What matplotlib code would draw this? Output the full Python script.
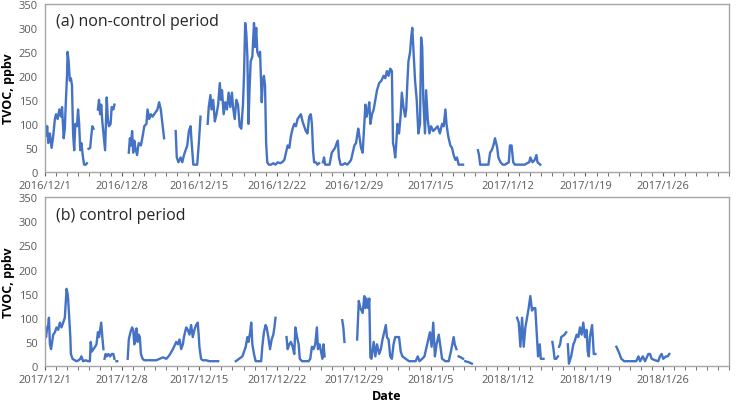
import numpy as np
import pandas as pd
import matplotlib
matplotlib.use('Agg')
import matplotlib.pyplot as plt
from matplotlib.ticker import MultipleLocator, FuncFormatter

nan = np.nan

# ------------------------------------------------------------------
# data: days since start of period, TVOC (ppbv); nan breaks the line
# ------------------------------------------------------------------
start_a = pd.Timestamp('2016-12-01')
start_b = pd.Timestamp('2017-12-01')

day_a = [
    0.0, 0.1, 0.2, 0.3, 0.45, 0.6, 0.75, 0.9, 1.0, 1.15, 1.3, 1.45, 1.55, 1.7, 1.8, 1.9,
    2.0, 2.05, 2.15, 2.25, 2.35, 2.45, 2.55, 2.65, 2.75, 2.9, 3.0, 3.1, 3.2, 3.3, 3.45,
    3.55, 3.7, 3.8, nan,
    3.95, 4.1, 4.2, 4.3, 4.4, nan,
    4.8, 4.9, 5.0, 5.1, 5.2, 5.35, 5.45, 5.6, 5.7, 5.8, 5.95, 6.05, 6.2, 6.3, nan,
    7.6, 7.7, 7.8, 7.9, 8.0, 8.1, 8.2, 8.35, 8.5, 8.7, 8.9, 9.0, 9.2, 9.3, 9.45, 9.6,
    9.75, 9.9, 10.05, 10.2, 10.35, 10.5, 10.65, 10.8, nan,
    11.85, 11.95, 12.1, 12.3, 12.45, 12.6, 12.75, 12.9, 13.05, 13.2, 13.3, 13.45, 13.6,
    13.8, 13.95, 14.1, nan,
    14.75, 14.85, 15.0, 15.1, 15.25, 15.4, 15.55, 15.7, 15.85, 15.95, 16.05, 16.2, 16.35,
    16.5, 16.65, 16.8, 16.95, 17.05, 17.2, 17.35, 17.5, 17.65, 17.8, 17.95, 18.05, 18.15,
    18.25, 18.35, 18.45, 18.55, 18.65, 18.8, 18.95, 19.05, 19.15, 19.25, 19.4, 19.5,
    19.65, 19.75, 19.85, 19.95, 20.05, 20.15, 20.3, 20.5, 20.7, 20.9, 21.1, 21.3, 21.5,
    21.7, 21.85, 22.0, 22.15, 22.3, 22.45, 22.6, 22.75, 22.9, 23.05, 23.2, 23.35, 23.5,
    23.65, 23.8, 23.95, 24.1, 24.2, 24.3, 24.4, 24.55, 24.7, 24.85, nan,
    25.2, 25.3, 25.4, 25.6, 25.8, 26.0, 26.15, 26.3, 26.45, 26.55, 26.65, 26.8, 27.0,
    27.2, 27.4, 27.6, 27.75, 27.9, 28.05, 28.2, 28.4, 28.5, 28.65, 28.8, 28.95, 29.05,
    29.15, 29.3, 29.4, 29.5, 29.65, 29.8, 29.95, 30.1, 30.3, 30.5, 30.7, 30.85, 31.0,
    31.15, 31.3, 31.45, 31.55, 31.65, 31.75, 31.85, 31.95, 32.1, 32.25, 32.35, 32.5,
    32.65, 32.75, 32.85, 32.95, 33.1, 33.2, 33.3, 33.4, 33.55, 33.7, 33.85, 34.0, 34.1,
    34.2, 34.3, 34.45, 34.55, 34.7, 34.85, 35.0, 35.2, 35.4, 35.6, 35.8, 36.0, 36.15,
    36.3, 36.4, 36.55, 36.75, 36.9, 37.05, 37.2, 37.35, 37.5, 37.7, 37.9, nan,
    39.25, 39.35, 39.45, 39.7, 39.95, 40.2, 40.35, 40.5, 40.65, 40.8, 40.9, 41.0, 41.1,
    41.3, 41.5, 41.7, 41.9, 42.05, 42.15, 42.3, 42.45, 42.6, 42.9, 43.2, 43.5, 43.7,
    43.9, 44.0, 44.2, 44.4, 44.55, 44.65, 44.9,
]
tvoc_a = [
    100, 75, 95, 60, 80, 50, 75, 110, 120, 110, 130, 115, 135, 70, 90, 150,
    200, 250, 230, 190, 195, 180, 80, 45, 100, 95, 130, 100, 45, 60, 30,
    15, 15, 18, nan,
    48, 50, 75, 95, 90, nan,
    130, 150, 120, 140, 105, 70, 45, 155, 110, 95, 100, 135, 130, 140, nan,
    40, 70, 55, 85, 40, 65, 50, 35, 60, 55, 80, 95, 100, 130, 110, 120,
    115, 120, 125, 130, 145, 130, 100, 70, nan,
    85, 30, 20, 30, 20, 35, 45, 55, 85, 95, 60, 15, 15,
    15, 60, 115, nan,
    100, 135, 160, 130, 150, 105, 120, 140, 185, 150, 170, 120, 145,
    130, 165, 135, 165, 135, 110, 150, 140, 95, 90, 140, 205, 310,
    290, 240, 100, 175, 230, 240, 310, 260, 300, 250, 240, 250,
    145, 190, 200, 180, 60, 20, 15, 15, 18, 15, 20, 18, 20,
    25, 40, 55, 50, 75, 90, 100, 95, 110, 115, 120, 105, 95,
    85, 80, 115, 120, 100, 45, 20, 20, 15, 18, nan,
    20, 30, 15, 15, 15, 40, 45, 50, 60, 65, 30, 15, 15,
    18, 15, 20, 25, 40, 55, 60, 90, 75, 50, 40, 100, 140,
    115, 130, 145, 100, 120, 130, 150, 170, 185, 190, 200, 195, 210,
    200, 215, 210, 60, 50, 30, 60, 100, 80, 120, 165, 135,
    115, 130, 185, 230, 250, 280, 300, 255, 190, 150, 80, 100, 280,
    260, 150, 80, 170, 110, 80, 95, 85, 90, 95, 80, 100, 95,
    130, 100, 75, 55, 50, 35, 25, 30, 15, 15, 15, nan,
    45, 35, 15, 15, 15, 15, 40, 45, 55, 70, 60, 50, 30,
    20, 15, 15, 18, 20, 55, 55, 20, 15, 15, 15, 15, 18,
    20, 30, 20, 25, 35, 20, 15,
]

day_b = [
    0.0, 0.1, 0.2, 0.3, 0.36, 0.45, 0.55, 0.65, 0.75, 0.9, 1.05, 1.2, 1.35, 1.5, 1.65,
    1.8, 1.9, 1.96, 2.05, 2.1, 2.2, 2.3, 2.35, 2.5, 2.7, 2.86, 3.05, 3.2, 3.3, 3.46,
    3.7, 3.9, 4.07, 4.15, 4.25, 4.4, 4.55, 4.67, 4.8, 4.9, 5.0, 5.1, 5.2, 5.3, nan,
    5.4, 5.5, 5.6, 5.75, 5.9, 6.05, 6.2, 6.3, nan,
    6.48, 6.55, nan,
    7.5, 7.6, 7.75, 7.9, 8.0, 8.1, 8.2, 8.3, 8.4, 8.5, 8.6, 8.7, 8.85, 9.0, 9.3, 9.6,
    9.9, 10.1, 10.4, 10.7, 11.0, 11.2, 11.35, 11.6, 11.8, 11.9, 12.05, 12.2, 12.35,
    12.5, 12.6, 12.7, 12.8, 12.95, 13.1, 13.25, 13.4, 13.55, 13.7, 13.85, 13.95, 14.0,
    14.15, 14.3, 14.6, 14.9, 15.2, 15.5, 15.7, nan,
    17.3, 17.6, 17.9, 18.05, 18.2, 18.35, 18.45, 18.6, 18.7, 18.8, 18.95, 19.1, 19.35,
    19.6, 19.7, 19.85, 20.0, 20.1, 20.25, 20.4, 20.55, 20.7, 20.8, 20.9, nan,
    21.9, 22.0, 22.15, 22.3, 22.45, 22.6, 22.7, 22.85, 23.0, 23.1, 23.3, 23.6, 23.9,
    24.05, 24.2, 24.35, 24.5, 24.65, 24.75, 24.9, 25.15, 25.25, 25.35, nan,
    26.95, 27.05, 27.15, nan,
    28.3, 28.45, 28.6, 28.8, 28.95, 29.05, 29.15, 29.3, 29.4, 29.5, 29.6, 29.8, 29.95,
    30.1, 30.3, 30.45, 30.6, 30.75, 30.9, 31.0, 31.15, 31.3, 31.45, 31.6, 31.75, 31.95,
    32.1, 32.25, 32.4, 32.7, 33.0, 33.3, 33.6, 33.8, 33.95, 34.2, 34.4, 34.6, 34.75,
    34.9, 35.05, 35.2, 35.35, 35.5, 35.7, 35.85, 36.0, 36.3, 36.6, 36.8, 37.05, 37.15,
    37.3, nan,
    37.5, 37.7, 37.9, nan,
    38.1, 38.4, 38.7, nan,
    42.8, 42.95, 43.1, 43.25, 43.4, 43.55, 43.7, 43.85, 44.0, 44.15, 44.3, 44.45, 44.6,
    44.7, 44.85, 44.95, 45.1, 45.2, nan,
    46.0, 46.1, 46.2, 46.35, 46.5, nan,
    46.6, 46.7, 46.8, 47.1, 47.25, nan,
    47.4, 47.5, 47.7, 47.9, 48.0, 48.2, 48.35, 48.5, 48.65, 48.8, 48.95, 49.1, 49.2,
    49.3, 49.4, 49.6, 49.75, 49.9, nan,
    51.8, 52.0, 52.25, 52.5, 52.9, 53.2, 53.6, 53.8, 53.95, 54.2, 54.4, 54.7, 54.85,
    55.0, 55.3, 55.6, 55.75, 55.9, 56.05, 56.3, 56.45, 56.6,
]
tvoc_b = [
    70, 60, 80, 85, 100, 45, 35, 50, 65, 70, 80, 75, 90, 80, 90,
    100, 140, 160, 150, 140, 100, 60, 25, 15, 12, 10, 12, 15, 20, 10,
    12, 10, 10, 50, 30, 35, 40, 45, 70, 60, 75, 90, 60, 35, nan,
    15, 25, 20, 25, 20, 25, 25, 15, nan,
    10, 10, nan,
    15, 55, 70, 80, 75, 45, 65, 78, 50, 65, 60, 25, 15, 12, 12, 12,
    12, 12, 15, 18, 15, 20, 25, 35, 45, 50, 45, 55, 35,
    45, 60, 70, 80, 75, 65, 85, 60, 75, 85, 90, 60, 40,
    15, 12, 12, 10, 10, 10, 10, nan,
    10, 15, 20, 30, 40, 60, 50, 70, 90, 45, 25, 10, 10,
    10, 40, 70, 85, 80, 60, 35, 55, 65, 80, 100, nan,
    60, 35, 45, 50, 40, 25, 80, 60, 45, 15, 10, 10, 10,
    15, 40, 35, 45, 80, 35, 45, 15, 45, 20, nan,
    95, 80, 50, nan,
    55, 135, 120, 110, 145, 120, 140, 120, 140, 18, 15, 50, 20,
    45, 25, 35, 55, 70, 85, 60, 55, 20, 15, 45, 60, 60,
    60, 30, 20, 15, 10, 10, 10, 20, 10, 15, 20, 40, 55,
    70, 40, 90, 20, 45, 65, 40, 15, 10, 10, 30, 60, 45,
    35, nan,
    20, 18, 15, nan,
    10, 8, 5, nan,
    100, 90, 40, 100, 40, 80, 100, 120, 145, 115, 120, 120, 60,
    20, 45, 15, 15, 15, nan,
    50, 35, 15, 15, 20, nan,
    40, 45, 60, 65, 70, nan,
    45, 5, 20, 45, 50, 65, 60, 80, 65, 90, 60, 75, 30,
    20, 60, 85, 25, 25, nan,
    40, 30, 15, 10, 10, 10, 10, 20, 10, 20, 10, 25, 25,
    15, 12, 10, 20, 25, 15, 20, 20, 25,
]

panels = [
    (day_a, tvoc_a, start_a, '(a) non-control period'),
    (day_b, tvoc_b, start_b, '(b) control period'),
]

plt.rcParams['font.family'] = ['Open Sans', 'DejaVu Sans']

line_color = '#4472C4'
frame_color = '#A6A6A6'
text_grey = '#595959'

fig = plt.figure(figsize=(7.37, 4.02), dpi=100)
ax_a = fig.add_axes([0.061, 0.570, 0.928, 0.418])
ax_b = fig.add_axes([0.061, 0.087, 0.928, 0.420])

for ax, (days, vals, start, title) in zip([ax_a, ax_b], panels):
    ax.plot(days, vals, color=line_color, lw=1.7)

    ax.set_xlim(0, 62)
    ax.set_ylim(0, 350)
    ax.xaxis.set_major_locator(MultipleLocator(7))
    ax.xaxis.set_minor_locator(MultipleLocator(1))
    ax.yaxis.set_major_locator(MultipleLocator(50))

    def fmt(x, pos, start=start):
        d = start + pd.Timedelta(days=x)
        return f'{d.year}/{d.month}/{d.day}'
    ax.xaxis.set_major_formatter(FuncFormatter(fmt))

    for s in ax.spines.values():
        s.set_color(frame_color)
        s.set_linewidth(1.0)
    ax.tick_params(axis='x', which='both', direction='out', length=3,
                   color=text_grey, labelsize=8, labelcolor=text_grey, pad=3)
    ax.tick_params(axis='y', length=0, labelsize=8, labelcolor=text_grey, pad=5)

    ax.set_ylabel('TVOC, ppbv', fontsize=9, fontweight='bold', labelpad=3)
    ax.text(0.016, 0.895, title, transform=ax.transAxes, fontsize=11.5,
            va='center', ha='left', color='#262626')

ax_b.set_xlabel('Date', fontsize=9, fontweight='bold')
ax_b.xaxis.set_label_coords(0.5, -0.135)

fig.savefig('out.png', dpi=100)
